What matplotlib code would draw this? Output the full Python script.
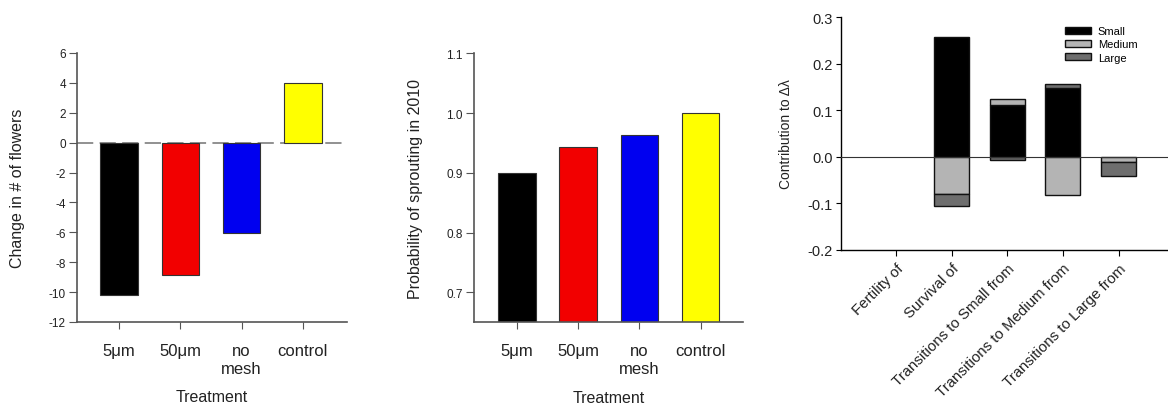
import matplotlib
matplotlib.use("Agg")
import matplotlib.pyplot as plt
import numpy as np
from matplotlib.patches import Patch

plt.rcParams['font.family'] = ['Liberation Sans', 'DejaVu Sans']
plt.rcParams['axes.unicode_minus'] = False

# ---- data ----
treatments = ["5\u03bcm", "50\u03bcm", "no\nmesh", "control"]
treat_colors = ["#000000", "#f20000", "#0000f0", "#ffff00"]
flower_change = [-10.2, -8.87, -6.07, 4.0]
sprout_prob = [0.90, 0.944, 0.963, 1.0]

ltre_categories = ["Fertility of", "Survival of", "Transitions to Small from",
                   "Transitions to Medium from", "Transitions to Large from"]
small = [0.0, 0.258, 0.112, 0.148, 0.0]
medium = [0.0, -0.080, 0.012, -0.082, -0.011]
large = [0.0, -0.026, -0.007, 0.009, -0.030]
size_names = ["Small", "Medium", "Large"]
size_colors = ["#000000", "#b4b4b4", "#6e6e6e"]

W, H = 1168, 406
fig = plt.figure(figsize=(W / 100, H / 100), dpi=100)

def px_axes(x0, x1, y0, y1):
    return fig.add_axes([x0 / W, (H - y1) / H, (x1 - x0) / W, (y1 - y0) / H])

spine_col = "#555555"
text_col = "#222222"

def style(ax):
    for s in ["top", "right"]:
        ax.spines[s].set_visible(False)
    for s in ["left", "bottom"]:
        ax.spines[s].set_color(spine_col)
        ax.spines[s].set_linewidth(1.2)

x = np.arange(len(treatments))

def treatment_axes(ax):
    ax.set_xticks(x)
    ax.set_xticklabels(treatments, fontsize=12, color=text_col, linespacing=1.25)
    ax.tick_params(axis="y", labelsize=8.5, length=6, color=spine_col, labelcolor=text_col, pad=2)
    ax.tick_params(axis="x", length=5, color=spine_col, pad=10)
    ax.set_xlabel("Treatment", fontsize=11.5, color=text_col)
    ax.xaxis.set_label_coords(0.5, -0.25)

# ---- panel 1 ----
ax1 = px_axes(77, 347, 54, 323)
style(ax1)
ax1.bar(x, flower_change, width=0.61, color=treat_colors, edgecolor="#333333", linewidth=0.8, zorder=2)
ax1.axhline(0, color="#888888", linestyle=(0, (9, 3.5)), linewidth=1.3, zorder=1)
ax1.set_xlim(-0.685, 3.72)
ax1.set_ylim(-12, 6)
ax1.set_yticks(np.arange(-12, 7, 2))
treatment_axes(ax1)
ax1.set_ylabel("Change in # of flowers", fontsize=11.5, color=text_col)
ax1.yaxis.set_label_coords(-0.193, 0.5)

# ---- panel 2 ----
ax2 = px_axes(474, 743, 54.3, 323.3)
style(ax2)
ax2.bar(x, sprout_prob, width=0.61, color=treat_colors, edgecolor="#333333", linewidth=0.8, zorder=2)
ax2.set_xlim(-0.70, 3.69)
ax2.set_ylim(0.65, 1.1)
ax2.set_yticks([0.7, 0.8, 0.9, 1.0, 1.1])
ax2.set_yticklabels(["0.7", "0.8", "0.9", "1.0", "1.1"])
treatment_axes(ax2)
ax2.set_ylabel("Probability of sprouting in 2010", fontsize=11.5, color=text_col)
ax2.yaxis.set_label_coords(-0.19, 0.5)

# ---- panel 3 ----
ax3 = px_axes(840.7, 1168, 18.3, 250.7)
for s in ["top", "right"]:
    ax3.spines[s].set_visible(False)
for s in ["left", "bottom"]:
    ax3.spines[s].set_color("#000000")
    ax3.spines[s].set_linewidth(1.0)
xc = np.arange(len(ltre_categories))
pos_bottom = np.zeros(len(xc))
neg_bottom = np.zeros(len(xc))
for vals, col in zip([small, medium, large], size_colors):
    vals = np.array(vals)
    bottoms = np.where(vals >= 0, pos_bottom, neg_bottom)
    mask = vals != 0
    ax3.bar(xc[mask], vals[mask], bottom=bottoms[mask], width=0.63, color=col,
            edgecolor="#111111", linewidth=1.0, zorder=2)
    pos_bottom = pos_bottom + np.where(vals > 0, vals, 0)
    neg_bottom = neg_bottom + np.where(vals < 0, vals, 0)
ax3.axhline(0, color="#333333", linewidth=0.8, zorder=3)
ax3.set_xlim(-1, 4.89)
ax3.set_ylim(-0.2, 0.3)
ax3.set_yticks([-0.2, -0.1, 0.0, 0.1, 0.2, 0.3])
ax3.set_yticklabels(["-0.2", "-0.1", "0.0", "0.1", "0.2", "0.3"])
ax3.set_xticks(xc)
ax3.set_xticklabels(ltre_categories, rotation=45, ha="right", rotation_mode="anchor",
                    fontsize=10.8, color=text_col)
ax3.tick_params(axis="y", labelsize=10.5, length=3.5, pad=2, labelcolor=text_col)
ax3.tick_params(axis="x", length=4, pad=4)
ax3.set_ylabel("Contribution to \u0394\u03bb", fontsize=10, color=text_col)
ax3.yaxis.set_label_coords(-0.146, 0.5)
handles = [Patch(facecolor=c, edgecolor="#111111", linewidth=1.0, label=n)
           for n, c in zip(size_names, size_colors)]
ax3.legend(handles=handles, loc="upper left", bbox_to_anchor=(0.685, 0.962), frameon=False,
           fontsize=8, handlelength=2.35, handleheight=0.6, labelspacing=0.3, handletextpad=0.6,
           borderaxespad=0, borderpad=0)

fig.savefig("out.png", dpi=100)
